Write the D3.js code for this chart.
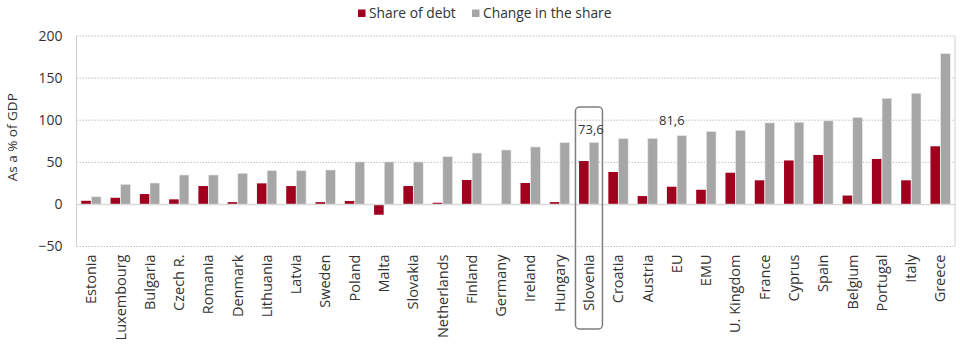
<!DOCTYPE html>
<html><head><meta charset="utf-8">
<script src="https://cdn.jsdelivr.net/npm/d3@7"></script>
<style>body{margin:0;background:#fff}svg{display:block}text{font-family:"Open Sans",sans-serif;fill:#333}</style>
</head><body><svg id="c" width="960" height="350"></svg>
<script>
const categories = ["Estonia","Luxembourg","Bulgaria","Czech R.","Romania","Denmark","Lithuania","Latvia","Sweden","Poland","Malta","Slovakia","Netherlands","Finland","Germany","Ireland","Hungary","Slovenia","Croatia","Austria","EU","EMU","U. Kingdom","France","Cyprus","Spain","Belgium","Portugal","Italy","Greece"];
const shareOfDebt = [4.3,7.9,12.3,6,21.8,2.7,25,21.8,2.7,4,-12.3,21.8,2,29,0,25.4,2.7,51.5,38.5,9.9,21,17.4,37.6,28.6,52.2,58.7,10.5,54,28.6,69];
const changeInShare = [9,23.8,25.4,34.9,34.9,36.9,40,40,40.8,50.4,50.4,50.4,56.7,61,64.6,68.2,73.4,73.6,78,78.5,81.6,86.5,88,96.8,97.6,99.2,103.3,126,132,179];
const yTicks = [-50,0,50,100,150,200];
const seriesNames = ["Share of debt","Change in the share"];
const colors = ["#a0001e","#a6a6a6"];
const annotations = [{cat:"Slovenia", text:"73,6", box:true},{cat:"EU", text:"81,6", box:false}];

const svg = d3.select("#c");
const L = 76.5, R = 955, T = 36, B = 246.5;
const x = d3.scaleBand().domain(categories).range([L, R]).paddingInner(0).paddingOuter(0);
const y = d3.scaleLinear().domain([-50, 200]).range([B, T]);
const bw = 9.6, gap = 0.6;

// gridlines
svg.append("g").selectAll("line").data(yTicks.filter(d => d !== 0)).join("line")
  .attr("x1", L).attr("x2", R).attr("y1", d => y(d)).attr("y2", d => y(d))
  .attr("stroke", "#bfbfbf").attr("stroke-width", 1).attr("stroke-dasharray", "1.5,1.5");
// frame sides
svg.append("line").attr("x1", L).attr("x2", L).attr("y1", T).attr("y2", B).attr("stroke", "#d0d0d0");
svg.append("line").attr("x1", R).attr("x2", R).attr("y1", T).attr("y2", B).attr("stroke", "#d0d0d0");

// y axis labels
const yAxis = d3.axisLeft(y).tickValues(yTicks).tickSize(0).tickPadding(14).tickFormat(d3.format("d"));
const ga = svg.append("g").attr("transform", `translate(${L},0)`).call(yAxis);
ga.select(".domain").remove();
ga.selectAll("text").style("font-family", "'Open Sans',sans-serif").style("font-size", "14px").attr("fill", "#333");

svg.append("text").attr("transform", `translate(17,${(T + B) / 2 - 4}) rotate(-90)`)
  .attr("text-anchor", "middle").style("font-size", "13.5px").text("As a % of GDP");

// bars
const data = categories.map((c, i) => ({c, v: [shareOfDebt[i], changeInShare[i]]}));
const g = svg.append("g");
data.forEach(d => {
  const cx = x(d.c) + x.bandwidth() / 2;
  d.v.forEach((v, k) => {
    const x0 = k === 0 ? cx - gap / 2 - bw : cx + gap / 2;
    g.append("rect").attr("x", x0).attr("width", bw)
      .attr("y", Math.min(y(v), y(0))).attr("height", Math.abs(y(v) - y(0)))
      .attr("fill", colors[k]).attr("stroke", k === 1 ? "#e6e6e6" : "none").attr("stroke-width", 0.6);
  });
});

// zero line
svg.append("line").attr("x1", L).attr("x2", R).attr("y1", y(0)).attr("y2", y(0))
  .attr("stroke", "#d9d9d9").attr("stroke-width", 1.5);

// x labels
const xAxis = d3.axisBottom(x).tickSize(0).tickPadding(0);
const gx = svg.append("g").attr("transform", `translate(0,${B})`).call(xAxis);
gx.select(".domain").remove();
gx.selectAll("text").style("font-family", "'Open Sans',sans-serif").style("font-size", "14.5px").attr("fill", "#333")
  .attr("transform", "rotate(-90)").attr("text-anchor", "end").attr("x", -8).attr("y", 0).attr("dy", "0.35em");

// annotations
annotations.forEach(a => {
  const i = categories.indexOf(a.cat);
  const cx = x(a.cat) + x.bandwidth() / 2;
  if (a.box) {
    svg.append("rect").attr("x", cx - 13.5).attr("y", 107).attr("width", 27).attr("height", 222)
      .attr("rx", 4).attr("fill", "none").attr("stroke", "#7f7f7f").attr("stroke-width", 1.5);
    svg.append("text").attr("x", cx + 2).attr("y", y(changeInShare[i]) - 8).attr("text-anchor", "middle")
      .style("font-size", "13px").text(a.text);
  } else {
    svg.append("text").attr("x", cx - 5).attr("y", y(changeInShare[i]) - 11).attr("text-anchor", "middle")
      .style("font-size", "13px").text(a.text);
  }
});

// legend
const lg = svg.append("g");
const lx = [358, 472];
seriesNames.forEach((n, k) => {
  lg.append("rect").attr("x", lx[k]).attr("y", 9.5).attr("width", 7.5).attr("height", 7.5).attr("fill", colors[k]);
  lg.append("text").attr("x", lx[k] + 11).attr("y", 13.5).attr("dy", "0.35em").style("font-size", "13.8px").text(n);
});
</script></body></html>
